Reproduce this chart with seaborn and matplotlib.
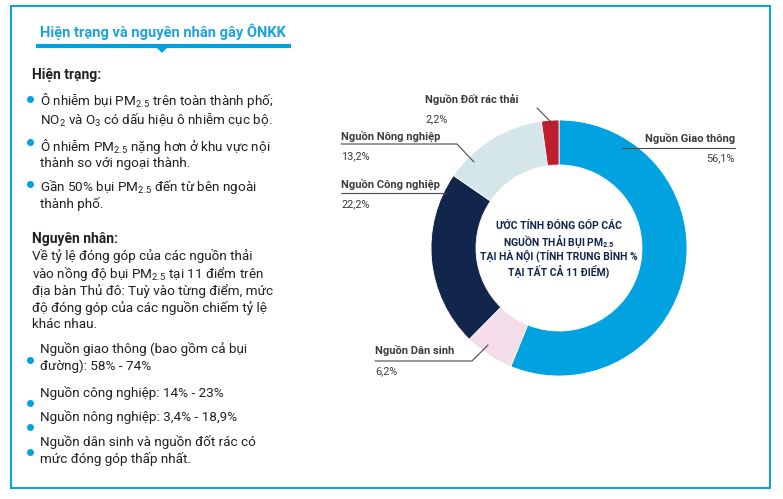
import numpy as np
import pandas as pd
import seaborn as sns
import matplotlib.pyplot as plt
from matplotlib.patches import Rectangle, Polygon

# dữ liệu biểu đồ tròn
sources = ["Nguồn Giao thông", "Nguồn Dân sinh", "Nguồn Công nghiệp",
           "Nguồn Nông nghiệp", "Nguồn Đốt rác thải"]
shares = [56.1, 6.2, 22.2, 13.2, 2.2]
colors = ["#00A3E0", "#F4DDE9", "#12264B", "#D4E6E9", "#BE1E2D"]

df = pd.DataFrame({"Nguon": sources, "TyLe": shares, "Mau": colors})
df["Nhan"] = df["TyLe"].map(lambda v: f"{v:.1f}%".replace(".", ","))

sns.set_style("white")
FONT = 'Roboto'
plt.rcParams['font.family'] = [FONT, 'DejaVu Sans']
plt.rcParams['mathtext.fontset'] = 'custom'
plt.rcParams['mathtext.rm'] = FONT
plt.rcParams['mathtext.it'] = FONT + ':italic'
plt.rcParams['mathtext.bf'] = FONT + ':bold'

BLUE = "#00A3E0"
TXT = "#231F20"
LBL = "#3C3C3C"

W, H = 783, 499
fig = plt.figure(figsize=(W / 100, H / 100), dpi=100)

# donut
cx, cy, R = 559, 248, 128
pad = 134
ax_pie = fig.add_axes([(cx - pad) / W, (H - cy - pad) / H, 2 * pad / W, 2 * pad / H])
ax_pie.pie(df["TyLe"], colors=df["Mau"], startangle=90, counterclock=False,
           radius=R, wedgeprops=dict(width=45, edgecolor="white", linewidth=0.6))
ax_pie.set_xlim(-pad, pad)
ax_pie.set_ylim(-pad, pad)
ax_pie.axis('off')

# lớp phủ cho chữ, khung
ax = fig.add_axes([0, 0, 1, 1], zorder=3)
ax.set_xlim(0, W)
ax.set_ylim(H, 0)
ax.axis('off')
ax.patch.set_alpha(0)

ax.add_patch(Rectangle((11, 6), 759, 482, fill=False, ec=BLUE, lw=1.4))

# tiêu đề bên trái
ax.text(163, 32, "Hiện trạng và nguyên nhân gây ÔNKK", ha='center', va='center',
        fontsize=10.5, fontweight='bold', color="#1BA3DD")
ax.plot([36, 291], [46, 46], color=BLUE, lw=3, solid_capstyle='butt')
ax.add_patch(Polygon([[155, 46], [169, 46], [162, 53]], closed=True, color=BLUE, lw=0))

fs = 9.7
ax.text(32, 75, "Hiện trạng:", ha='left', va='center', fontsize=10, fontweight='bold', color=TXT)

body1 = [
    (100, "Ô nhiễm bụi PM$_{2.5}$ trên toàn thành phố;"),
    (120, "NO$_2$ và O$_3$ có dấu hiệu ô nhiễm cục bộ."),
    (146, "Ô nhiễm PM$_{2.5}$ nặng hơn ở khu vực nội"),
    (164, "thành so với ngoại thành."),
    (187, "Gần 50% bụi PM$_{2.5}$ đến từ bên ngoài"),
    (204, "thành phố."),
]
for y, s in body1:
    ax.text(40, y, s, ha='left', va='center', fontsize=fs, color=TXT)
for y in [99, 142, 184]:
    ax.plot(30, y, 'o', ms=4, color=BLUE)

ax.text(32, 239, "Nguyên nhân:", ha='left', va='center', fontsize=10, fontweight='bold', color=TXT)
body2 = [
    (256, "Về tỷ lệ đóng góp của các nguồn thải"),
    (274, "vào nồng độ bụi PM$_{2.5}$ tại 11 điểm trên"),
    (291, "địa bàn Thủ đô: Tuỳ vào từng điểm, mức"),
    (308, "độ đóng góp của các nguồn chiếm tỷ lệ"),
    (325, "khác nhau."),
]
for y, s in body2:
    ax.text(32, y, s, ha='left', va='center', fontsize=fs, color=TXT)
body3 = [
    (349, "Nguồn giao thông (bao gồm cả bụi"),
    (366, "đường): 58% - 74%"),
    (393, "Nguồn công nghiệp: 14% - 23%"),
    (417, "Nguồn nông nghiệp: 3,4% - 18,9%"),
    (442, "Nguồn dân sinh và nguồn đốt rác có"),
    (459, "mức đóng góp thấp nhất."),
]
for y, s in body3:
    ax.text(40, y, s, ha='left', va='center', fontsize=fs, color=TXT)
for y in [360, 403, 427, 452]:
    ax.plot(30, y, 'o', ms=4, color=BLUE)

# nhãn biểu đồ: (x, y nhãn, căn lề, đường dẫn)
layout = {
    "Nguồn Giao thông": (735, 138, 'right', [(735, 148), (622, 148)]),
    "Nguồn Dân sinh": (375, 351, 'left', [(375, 361), (472, 361), (488, 345)]),
    "Nguồn Công nghiệp": (341, 184, 'left', [(341, 193), (446, 193)]),
    "Nguồn Nông nghiệp": (341, 136, 'left', [(341, 144), (457, 144), (474, 162)]),
    "Nguồn Đốt rác thải": (425, 99, 'left', [(537, 108), (552, 123)]),
}
for _, row in df.iterrows():
    x, y, ha, path = layout[row["Nguon"]]
    ax.text(x, y, row["Nguon"], ha=ha, va='center', fontsize=8,
            fontweight='bold', color=LBL)
    ax.text(x, y + 20, row["Nhan"], ha=ha, va='center', fontsize=7.8, color=LBL)
    px, py = zip(*path)
    ax.plot(px, py, color="#4A4A4A", lw=0.8)

# chữ giữa vòng
center_lines = [
    (226, "ƯỚC TÍNH ĐÓNG GÓP CÁC"),
    (241, "NGUỒN THẢI BỤI PM$_{\\mathbf{2.5}}$"),
    (256, "TẠI HÀ NỘI (TÍNH TRUNG BÌNH %"),
    (271, "TẠI TẤT CẢ 11 ĐIỂM)"),
]
for y, s in center_lines:
    ax.text(cx, y, s, ha='center', va='center', fontsize=7.5,
            fontweight='bold', color="#13254A")

fig.savefig("out.png", dpi=100)
